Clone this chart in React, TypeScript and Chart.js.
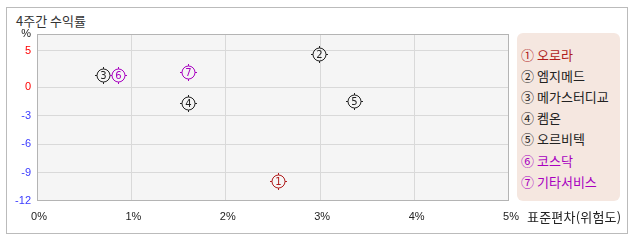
import React, { useEffect, useRef } from "react";
import { Chart, LinearScale, registerables } from "chart.js";

const NAMES = ["오로라", "엠지메드", "메가스터디교", "켐온", "오르비텍", "코스닥", "기타서비스"];
const MARKS = ["①", "②", "③", "④", "⑤", "⑥", "⑦"];
const RISK = [2.557, 2.99, 0.703, 1.603, 3.358, 0.861, 1.597];
const RETURN = [-9.85, 4.52, 1.7, -1.68, -1.4, 1.75, 2.14];
const COLORS = ["#b01c1c", "#222222", "#222222", "#222222", "#222222", "#a800c0", "#a800c0"];
const Y_TICKS = [-12, -9, -6, -3, 0, 5];
const Y_MIN = -12;
const Y_MAX = 7.3;
const X_TICKS = [0, 1, 2, 3, 4, 5];
const POS_RATIO = 0.773;

class SplitScale extends LinearScale {
  static id = "split";
  static defaults = (LinearScale as any).defaults;
  f(v: number) { return v >= 0 ? v * POS_RATIO : v; }
  finv(t: number) { return t >= 0 ? t / POS_RATIO : t; }
  getPixelForValue(value: any) {
    if (value === null || value === undefined) return NaN;
    const a = this.f(this.min), b = this.f(this.max);
    return this.getPixelForDecimal((this.f(+value) - a) / (b - a));
  }
  getValueForPixel(pixel: number) {
    const a = this.f(this.min), b = this.f(this.max);
    return this.finv(a + this.getDecimalForPixel(pixel) * (b - a));
  }
}

Chart.register(...registerables, SplitScale as any);

const frame = {
  id: "frame",
  beforeDraw(chart: any) {
    const { ctx, chartArea: c } = chart;
    ctx.save();
    ctx.fillStyle = "#f5f5f5";
    ctx.fillRect(c.left, c.top, c.right - c.left, c.bottom - c.top);
    ctx.restore();
  },
  afterDatasetsDraw(chart: any) {
    const { ctx, chartArea: c } = chart;
    ctx.save();
    ctx.strokeStyle = "#b4b4b4";
    ctx.lineWidth = 1;
    ctx.strokeRect(Math.round(c.left) + 0.5, Math.round(c.top) + 0.5, Math.round(c.right - c.left) - 1, Math.round(c.bottom - c.top) - 1);
    const meta = chart.getDatasetMeta(0);
    meta.data.forEach((el: any, i: number) => {
      const x = Math.round(el.x) + 0.5, y = Math.round(el.y) + 0.5;
      const r = 6.5;
      ctx.strokeStyle = COLORS[i];
      ctx.fillStyle = COLORS[i];
      ctx.lineWidth = 1;
      ctx.beginPath();
      ctx.arc(x, y, r, 0, Math.PI * 2);
      ctx.stroke();
      ctx.beginPath();
      ctx.moveTo(x, y - r); ctx.lineTo(x, y - r - 2);
      ctx.moveTo(x, y + r); ctx.lineTo(x, y + r + 2);
      ctx.moveTo(x - r, y); ctx.lineTo(x - r - 2, y);
      ctx.moveTo(x + r, y); ctx.lineTo(x + r + 2, y);
      ctx.stroke();
      ctx.font = "10px 'DejaVu Sans'";
      ctx.textAlign = "center";
      ctx.textBaseline = "middle";
      ctx.fillText(String(i + 1), x, y + 0.5);
    });
    ctx.restore();
  },
};

export default function App() {
  const ref = useRef<HTMLCanvasElement>(null);
  useEffect(() => {
    if (!ref.current) return;
    const chart = new Chart(ref.current, {
      type: "scatter",
      data: {
        datasets: [
          {
            data: RISK.map((x, i) => ({ x, y: RETURN[i] })),
            pointRadius: 0,
            pointHoverRadius: 0,
          },
        ],
      },
      options: {
        animation: false,
        responsive: false,
        events: [],
        layout: { padding: { left: 0, top: 34, right: 129, bottom: 0 } },
        plugins: { legend: { display: false }, tooltip: { enabled: false } },
        scales: {
          x: {
            type: "linear",
            min: 0,
            max: 5,
            afterBuildTicks: (s: any) => { s.ticks = X_TICKS.map((v) => ({ value: v })); },
            afterFit: (s: any) => { s.height = 41; },
            border: { display: false },
            grid: {
              drawTicks: false,
              color: (c: any) => (c.tick && (c.tick.value === 0 || c.tick.value === 5) ? "rgba(0,0,0,0)" : "#d9d9d9"),
            },
            ticks: {
              padding: 9,
              autoSkip: false,
              maxRotation: 0,
              labelOffset: 2,
              color: "#222",
              font: { family: "'Liberation Sans'", size: 11 },
              callback: (v: any) => v + "%",
            },
          },
          y: {
            type: "split" as any,
            min: Y_MIN,
            max: Y_MAX,
            afterBuildTicks: (s: any) => { s.ticks = [...Y_TICKS, Y_MAX].map((v) => ({ value: v })); },
            afterFit: (s: any) => { s.width = 37; },
            border: { display: false },
            grid: {
              drawTicks: false,
              color: (c: any) => (c.tick && (c.tick.value === Y_MAX || c.tick.value === Y_MIN) ? "rgba(0,0,0,0)" : "#d9d9d9"),
            },
            ticks: {
              padding: 6,
              autoSkip: false,
              font: { family: "'Liberation Sans'", size: 11 },
              color: (c: any) => (c.tick.value === Y_MAX ? "#222" : c.tick.value >= 0 ? "#ff0000" : "#3a3aff"),
              callback: (v: any) => (v === Y_MAX ? "%" : String(v)),
            },
          },
        },
      } as any,
      plugins: [frame],
    });
    return () => chart.destroy();
  }, []);

  const kr = "'Noto Sans CJK KR', sans-serif";
  return (
    <div style={{ position: "fixed", left: 0, top: 0, width: 638, height: 242, background: "#fff", overflow: "hidden" }}>
      <div style={{ position: "absolute", left: 6, top: 7, width: 620, height: 225, border: "1px solid #bbbbbb" }} />
      <div style={{ position: "absolute", left: 16, top: 12, fontFamily: kr, fontSize: 13, lineHeight: "17px", color: "#333", whiteSpace: "nowrap" }}>
        4주간 수익률
      </div>
      <canvas ref={ref} width={638} height={242} style={{ position: "absolute", left: 0, top: 0, width: 638, height: 242 }} />
      <div
        style={{
          position: "absolute", left: 517, top: 33, width: 103, height: 168, background: "#f5e7e0",
          borderRadius: 6, boxSizing: "border-box", paddingTop: 10.7, paddingLeft: 4,
        }}
      >
        {NAMES.map((n, i) => (
          <div key={n} style={{ fontFamily: kr, fontSize: 13, lineHeight: "21.2px", height: 21.2, color: COLORS[i], whiteSpace: "nowrap" }}>
            <span style={{ display: "inline-block", width: 16 }}>{MARKS[i]}</span>
            <span>{n}</span>
          </div>
        ))}
      </div>
      <div style={{ position: "absolute", left: 527, top: 208, fontFamily: kr, fontSize: 13, lineHeight: "17px", letterSpacing: 0.2, color: "#222", whiteSpace: "nowrap" }}>
        표준편차(위험도)
      </div>
    </div>
  );
}
